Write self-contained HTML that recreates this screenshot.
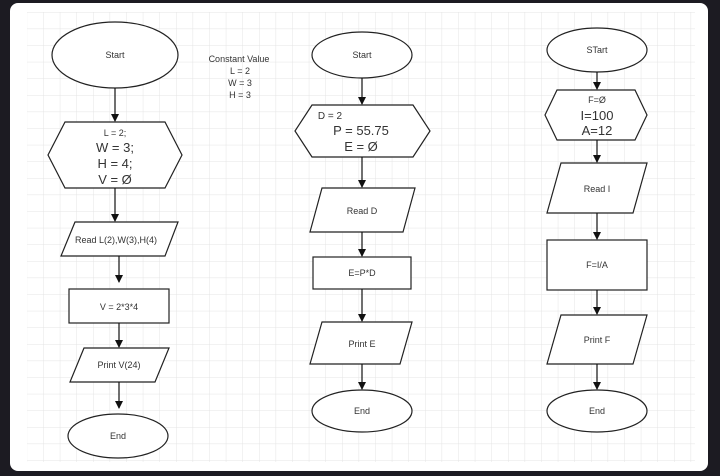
<!DOCTYPE html>
<html><head><style>
html,body{margin:0;padding:0;background:#1c1b22;}
svg{display:block}
text{font-family:"Liberation Sans",Arial,sans-serif;fill:#333;text-anchor:middle}
</style></head><body>
<svg width="720" height="476" xmlns="http://www.w3.org/2000/svg">
<defs>
<pattern id="g" x="10" y="12" width="16.6" height="16.6" patternUnits="userSpaceOnUse">
<path d="M0 0H16.6M0 0V16.6" stroke="#e4e4e4" stroke-width="1" fill="none"/>
</pattern>
<marker id="a" markerWidth="8" markerHeight="8" refX="7" refY="4" orient="auto" markerUnits="userSpaceOnUse">
<path d="M0 0L8 4L0 8z" fill="#111"/>
</marker>
</defs>
<rect x="0" y="0" width="720" height="476" fill="#1c1b22"/>
<rect x="10" y="3" width="698" height="468" rx="8" fill="#fff"/>
<rect x="27" y="12" width="668" height="450" fill="url(#g)"/>
<g stroke="#222" stroke-width="1.2" fill="#fff">
<ellipse cx="115" cy="55" rx="63" ry="33"/>
<polygon points="65,122 165,122 182,155 165,188 65,188 48,155"/>
<polygon points="75,222 178,222 165,256 61,256"/>
<rect x="69" y="289" width="100" height="34"/>
<polygon points="84,348 169,348 155,382 70,382"/>
<ellipse cx="118" cy="436" rx="50" ry="22"/>
<ellipse cx="362" cy="55" rx="50" ry="23"/>
<polygon points="312,105 413,105 430,131 413,157 312,157 295,131"/>
<polygon points="322,188 415,188 403,232 310,232"/>
<rect x="313" y="257" width="98" height="32"/>
<polygon points="322,322 412,322 400,364 310,364"/>
<ellipse cx="362" cy="411" rx="50" ry="21"/>
<ellipse cx="597" cy="50" rx="50" ry="22"/>
<polygon points="557,90 635,90 647,115 635,140 557,140 545,115"/>
<polygon points="561,163 647,163 633,213 547,213"/>
<rect x="547" y="240" width="100" height="50"/>
<polygon points="561,315 647,315 633,364 547,364"/>
<ellipse cx="597" cy="411" rx="50" ry="21"/>
</g>
<g stroke="#111" stroke-width="1.2" marker-end="url(#a)">
<line x1="115" y1="88" x2="115" y2="121"/>
<line x1="115" y1="188" x2="115" y2="221"/>
<line x1="119" y1="256" x2="119" y2="282"/>
<line x1="119" y1="323" x2="119" y2="347"/>
<line x1="119" y1="382" x2="119" y2="408"/>
<line x1="362" y1="78" x2="362" y2="104"/>
<line x1="362" y1="157" x2="362" y2="187"/>
<line x1="362" y1="232" x2="362" y2="256"/>
<line x1="362" y1="289" x2="362" y2="321"/>
<line x1="362" y1="364" x2="362" y2="389"/>
<line x1="597" y1="72" x2="597" y2="89"/>
<line x1="597" y1="140" x2="597" y2="162"/>
<line x1="597" y1="213" x2="597" y2="239"/>
<line x1="597" y1="290" x2="597" y2="314"/>
<line x1="597" y1="364" x2="597" y2="389"/>
</g>
<g font-size="9">
<text x="115" y="58">Start</text>
<text x="115" y="136">L = 2;</text>
<text x="116" y="243">Read L(2),W(3),H(4)</text>
<text x="119" y="310">V = 2*3*4</text>
<text x="119" y="368">Print V(24)</text>
<text x="118" y="439">End</text>
<text x="239" y="62">Constant Value</text>
<text x="240" y="74">L = 2</text>
<text x="240" y="86">W = 3</text>
<text x="240" y="98">H =  3</text>
<text x="362" y="58">Start</text>
<text x="362" y="214">Read D</text>
<text x="362" y="276">E=P*D</text>
<text x="362" y="347">Print E</text>
<text x="362" y="414">End</text>
<text x="597" y="53">STart</text>
<text x="597" y="103">F=Ø</text>
<text x="597" y="192">Read I</text>
<text x="597" y="268">F=I/A</text>
<text x="597" y="343">Print F</text>
<text x="597" y="414">End</text>
</g>
<g font-size="13">
<text x="115" y="152">W = 3;</text>
<text x="115" y="168">H = 4;</text>
<text x="115" y="184">V = Ø</text>
<text x="361" y="135">P = 55.75</text>
<text x="361" y="151">E = Ø</text>
<text x="597" y="120">I=100</text>
<text x="597" y="135">A=12</text>
</g>
<text x="330" y="119" font-size="10">D = 2</text>
</svg>
</body></html>
